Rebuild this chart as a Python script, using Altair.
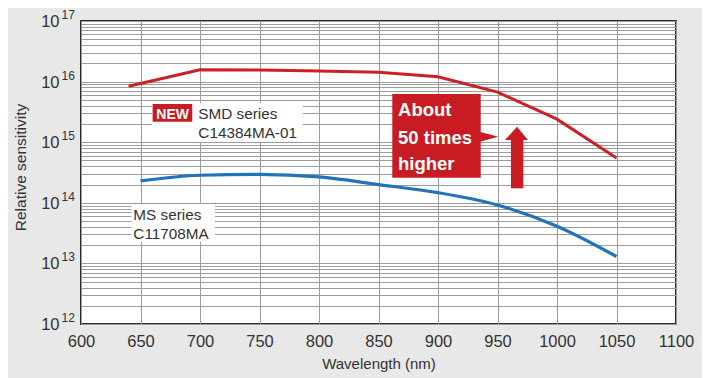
import altair as alt
import pandas as pd

# ---- data ----
wl_smd = [640, 700, 750, 800, 850, 900, 950, 1000, 1050]
sens_smd = [8.4e15, 1.57e16, 1.56e16, 1.50e16, 1.42e16, 1.20e16, 6.7e15, 2.4e15, 5.5e14]
wl_ms = [650, 700, 750, 800, 850, 900, 950, 1000, 1050]
sens_ms = [2.3e14, 2.85e14, 2.95e14, 2.67e14, 2.0e14, 1.47e14, 9.2e13, 4.1e13, 1.3e13]
x_ticks = list(range(600, 1101, 50))
y_exponents = [12, 13, 14, 15, 16, 17]

FONT = "Liberation Sans, Arial, sans-serif"
RED = "#c81b22"
LINE_RED = "#cc2027"
BLUE = "#2273b9"
TXT = "#333333"

W, H = 595, 303
xs = alt.Scale(domain=[600, 1100], nice=False, zero=False)
ys = alt.Scale(type="log", domain=[1e12, 1e17], nice=False)

y_grid = [k * 10 ** e for e in range(12, 17) for k in range(1, 10)] + [1e17]

X_AX = alt.Axis(
    values=x_ticks, format="d", ticks=False, domain=False, grid=True,
    gridColor="#9c9c9c", gridWidth=1, labelFont=FONT, labelFontSize=16.5,
    labelColor=TXT, labelPadding=9, labelFlush=False,
    title="Wavelength (nm)", titleFont=FONT, titleFontSize=15,
    titleFontWeight="normal", titleColor=TXT, titlePadding=7)
Y_AX = alt.Axis(
    values=y_grid, ticks=False, domain=False, labels=False, grid=True,
    gridColor="#9c9c9c", gridWidth=1,
    title="Relative sensitivity", titleFont=FONT, titleFontSize=15.5,
    titleFontWeight="normal", titleColor=TXT, titleAngle=270,
    titleBaseline="middle", titleX=-61, titleY=146)


def e10(e):
    return 10 ** e


def X(f):
    return alt.X(f, scale=xs, axis=X_AX)


def Y(f):
    return alt.Y(f, scale=ys, axis=Y_AX)


smd_df = pd.DataFrame({"wl": wl_smd, "s": sens_smd})
ms_df = pd.DataFrame({"wl": wl_ms, "s": sens_ms})

# y tick labels "10" + exponent
ylab_df = pd.DataFrame({"v": [e10(e) for e in y_exponents],
                        "ex": [str(e) for e in y_exponents]})
ylab_base = alt.Chart(ylab_df).mark_text(
    align="right", baseline="middle", font=FONT, fontSize=16.5,
    color=TXT, dy=1).encode(
    x=alt.value(-21.5), y=Y("v:Q"), text=alt.value("10"))
ylab_exp = alt.Chart(ylab_df).mark_text(
    align="left", baseline="middle", font=FONT, fontSize=12,
    color=TXT, dy=-6).encode(
    x=alt.value(-19.5), y=Y("v:Q"), text="ex:N")

# white label boxes hiding the grid
boxes_df = pd.DataFrame({
    "x1": [659.7, 642.4], "x2": [786.5, 712.6],
    "y1": [e10(15.003), e10(13.353)], "y2": [e10(15.647), e10(13.980)],
})
white_boxes = alt.Chart(boxes_df).mark_rect(color="white").encode(
    x=X("x1:Q"), x2="x2:Q", y=Y("y1:Q"), y2="y2:Q")

# NEW badge
new_df = pd.DataFrame({"x1": [660.2], "x2": [693.5],
                       "y1": [e10(15.338)], "y2": [e10(15.630)],
                       "tx": [677.0], "ty": [e10(15.385)], "t": ["NEW"]})
new_box = alt.Chart(new_df).mark_rect(color=RED).encode(
    x=X("x1:Q"), x2="x2:Q", y=Y("y1:Q"), y2="y2:Q")
new_txt = alt.Chart(new_df).mark_text(
    font=FONT, fontSize=14, fontWeight="bold", color="white",
    align="center", baseline="alphabetic").encode(
    x=X("tx:Q"), y=Y("ty:Q"), text="t:N")

# series labels
lab_df = pd.DataFrame({
    "tx": [698.6, 698.6, 644.0, 644.0],
    "ty": [e10(15.378), e10(15.064), e10(13.716), e10(13.403)],
    "t": ["SMD series", "C14384MA-01", "MS series", "C11708MA"],
})
labels = alt.Chart(lab_df).mark_text(
    font=FONT, fontSize=15.3, color=TXT, align="left",
    baseline="alphabetic").encode(
    x=X("tx:Q"), y=Y("ty:Q"), text="t:N")

# lines
red_line = alt.Chart(smd_df).mark_line(color=LINE_RED, strokeWidth=3).encode(
    x=X("wl:Q"), y=Y("s:Q"))
blue_line = alt.Chart(ms_df).mark_line(
    color=BLUE, strokeWidth=3.2, interpolate="monotone").encode(
    x=X("wl:Q"), y=Y("s:Q"))

# callout box
call_df = pd.DataFrame({"x1": [861.6], "x2": [935.9],
                        "y1": [e10(14.414)], "y2": [e10(15.795)]})
call_box = alt.Chart(call_df).mark_rect(color=RED).encode(
    x=X("x1:Q"), x2="x2:Q", y=Y("y1:Q"), y2="y2:Q")
ptr_df = pd.DataFrame({"px": [935.0, 950.7],
                       "top": [e10(15.173), e10(15.091)],
                       "bot": [e10(15.008), e10(15.091)]})
pointer = alt.Chart(ptr_df).mark_area(color=RED, orient="vertical").encode(
    x=X("px:Q"), y=Y("top:Q"), y2="bot:Q")
call_txt_df = pd.DataFrame({
    "tx": [866.4, 866.4, 866.4],
    "ty": [e10(15.432), e10(14.975), e10(14.541)],
    "t": ["About", "50 times", "higher"],
})
call_txt = alt.Chart(call_txt_df).mark_text(
    font=FONT, fontSize=18.5, fontWeight="bold", color="white", align="left",
    baseline="alphabetic").encode(
    x=X("tx:Q"), y=Y("ty:Q"), text="t:N")

# up arrow
shaft_df = pd.DataFrame({"x1": [961.3], "x2": [971.7],
                         "y1": [e10(14.239)], "y2": [e10(15.04)]})
shaft = alt.Chart(shaft_df).mark_rect(color=RED).encode(
    x=X("x1:Q"), x2="x2:Q", y=Y("y1:Q"), y2="y2:Q")
head_df = pd.DataFrame({"px": [956.3, 966.4, 975.6],
                        "top": [e10(15.036), e10(15.256), e10(15.036)],
                        "bot": [e10(15.036), e10(15.036), e10(15.036)]})
head = alt.Chart(head_df).mark_area(color=RED, orient="vertical").encode(
    x=X("px:Q"), y=Y("top:Q"), y2="bot:Q")

chart = alt.layer(
    white_boxes, new_box, new_txt, labels, blue_line, red_line,
    call_box, pointer, call_txt, shaft, head, ylab_base, ylab_exp,
).properties(
    width=W, height=H,
    autosize=alt.AutoSizeParams(type="none"),
    padding={"left": 73, "top": 13, "right": 26, "bottom": 54},
    background="#e8e8e8",
).configure_view(
    fill="white", stroke="#2a2a2a", strokeWidth=2,
)

chart.save("out.html", embed_options={"renderer": "svg", "actions": False})
